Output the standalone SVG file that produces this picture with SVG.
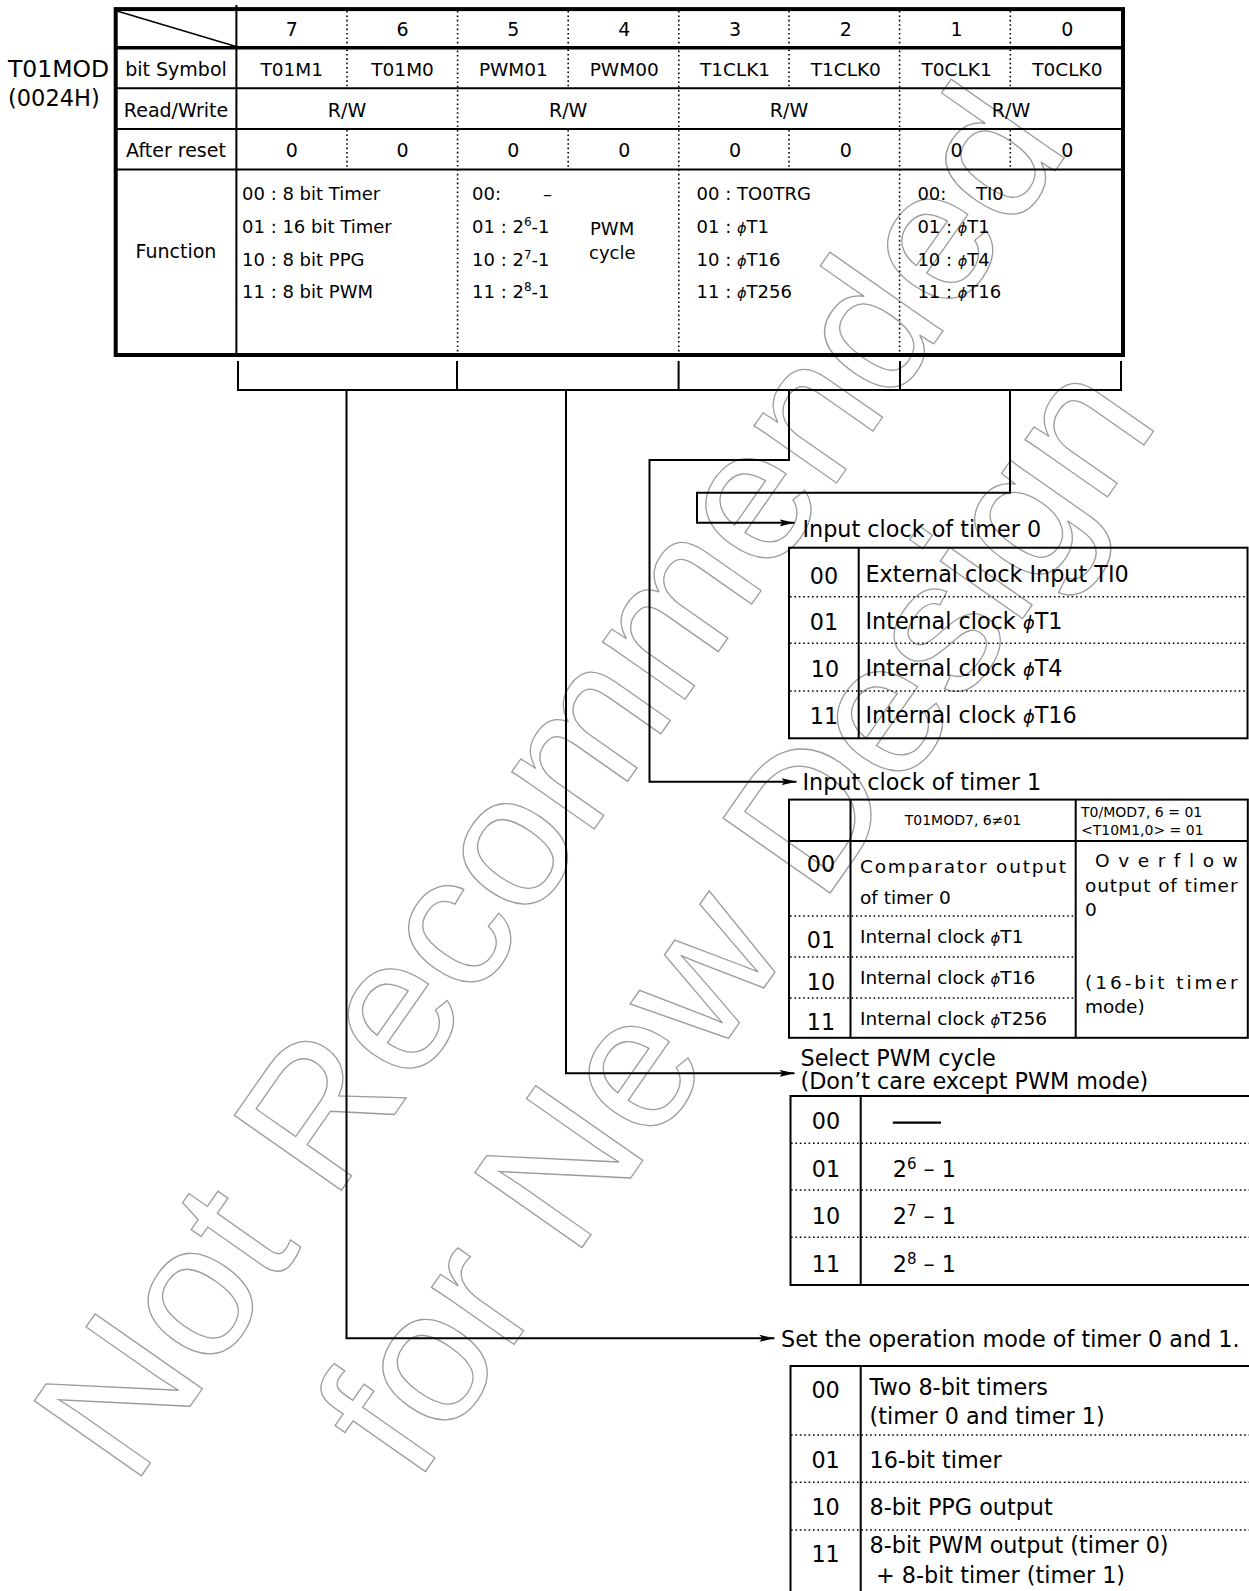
<svg xmlns="http://www.w3.org/2000/svg" width="1249" height="1591" viewBox="0 0 1249 1591">
<defs>
<style>
text{font-family:'DejaVu Sans','Noto Sans',sans-serif;fill:#000;font-variant-ligatures:none}
.f19{font-size:19px}
.f18{font-size:18px}
.f185{font-size:18.5px}
.f22{font-size:22.3px}
.f14{font-size:14px}
.m{text-anchor:middle}
.ln{stroke:#000;stroke-width:2;fill:none}
.bd{stroke:#000;stroke-width:4;fill:none}
.dt{stroke:#000;stroke-width:1.6;stroke-dasharray:1.6 2.8;fill:none}
.ph{font-style:italic;font-size:0.8em}
.wm{font-family:'Liberation Sans',Arial,sans-serif;font-size:190px;fill:none;stroke:#9c9c9c;stroke-width:1.3;text-anchor:middle}
</style>
<marker id="ah" markerWidth="16" markerHeight="10" refX="15" refY="5" orient="auto" markerUnits="userSpaceOnUse">
<path d="M0,1.5 L15,5 L0,8.5 L3,5 z" fill="#000"/>
</marker>
</defs>
<rect width="1249" height="1591" fill="#fff"/>

<g id="watermark" transform="translate(602,818) rotate(-55)">
<text class="wm" x="0" y="0">Not Recommended</text>
<text class="wm" x="-4" y="230">for New Design</text>
</g>

<g id="register-label">
<text x="8" y="77" style="font-size:23.5px">T01MOD</text>
<text x="8" y="105.5" style="font-size:22.5px">(0024H)</text>
</g>

<g id="register-table">
<rect x="115.7" y="9.1" width="1007.3" height="345.9" class="bd"/>
<line x1="115.7" y1="47.7" x2="1123" y2="47.7" stroke="#000" stroke-width="3.5"/>
<path class="ln" d="M115.7,88.3 H1123 M115.7,128.9 H1123 M115.7,169.4 H1123 M236.4,5 V355"/>
<line x1="117" y1="11" x2="236" y2="46.5" stroke="#000" stroke-width="1.5"/>
<path class="dt" d="M457.6,11 V353 M678.8,11 V353 M899.6,11 V353"/>
<path class="dt" d="M347,11 V46 M347,49.5 V87.3 M347,130 V168.4 M568.2,11 V46 M568.2,49.5 V87.3 M568.2,130 V168.4 M789,11 V46 M789,49.5 V87.3 M789,130 V168.4 M1010.3,11 V46 M1010.3,49.5 V87.3 M1010.3,130 V168.4"/>
<g class="f19">
<text class="m" x="291.8" y="36">7</text>
<text class="m" x="402.6" y="36">6</text>
<text class="m" x="513.4" y="36">5</text>
<text class="m" x="624.2" y="36">4</text>
<text class="m" x="735" y="36">3</text>
<text class="m" x="845.8" y="36">2</text>
<text class="m" x="956.6" y="36">1</text>
<text class="m" x="1067.4" y="36">0</text>
<text class="m" x="176" y="76">bit Symbol</text>
<text class="m" x="176" y="116.5">Read/Write</text>
<text class="m" x="176" y="157">After reset</text>
<text class="m" x="176" y="258">Function</text>
<text class="m" x="347" y="116.5">R/W</text>
<text class="m" x="568.2" y="116.5">R/W</text>
<text class="m" x="789" y="116.5">R/W</text>
<text class="m" x="1011" y="116.5">R/W</text>
<text class="m" x="291.8" y="157">0</text>
<text class="m" x="402.6" y="157">0</text>
<text class="m" x="513.4" y="157">0</text>
<text class="m" x="624.2" y="157">0</text>
<text class="m" x="735" y="157">0</text>
<text class="m" x="845.8" y="157">0</text>
<text class="m" x="956.6" y="157">0</text>
<text class="m" x="1067.4" y="157">0</text>
</g>
<g class="f185">
<text class="m" x="291.8" y="76">T01M1</text>
<text class="m" x="402.6" y="76">T01M0</text>
<text class="m" x="513.4" y="76">PWM01</text>
<text class="m" x="624.2" y="76">PWM00</text>
<text class="m" x="735" y="76">T1CLK1</text>
<text class="m" x="845.8" y="76">T1CLK0</text>
<text class="m" x="956.6" y="76">T0CLK1</text>
<text class="m" x="1067.4" y="76">T0CLK0</text>
</g>
<g class="f18">
<text x="242" y="200">00 : 8 bit Timer</text>
<text x="242" y="233">01 : 16 bit Timer</text>
<text x="242" y="266">10 : 8 bit PPG</text>
<text x="242" y="298">11 : 8 bit PWM</text>
<text x="472" y="200">00:</text>
<text x="543" y="200">–</text>
<text x="472" y="233">01 : 2<tspan font-size="12" dy="-7">6</tspan><tspan dy="7">-1</tspan></text>
<text x="472" y="266">10 : 2<tspan font-size="12" dy="-7">7</tspan><tspan dy="7">-1</tspan></text>
<text x="472" y="298">11 : 2<tspan font-size="12" dy="-7">8</tspan><tspan dy="7">-1</tspan></text>
<text x="590" y="235">PWM</text>
<text x="589" y="259">cycle</text>
<text x="696.6" y="200">00 : TO0TRG</text>
<text x="696.6" y="233">01 : <tspan class="ph">ϕ</tspan>T1</text>
<text x="696.6" y="266">10 : <tspan class="ph">ϕ</tspan>T16</text>
<text x="696.6" y="298">11 : <tspan class="ph">ϕ</tspan>T256</text>
<text x="917.4" y="200">00:</text>
<text x="976" y="200">TI0</text>
<text x="917.4" y="233">01 : <tspan class="ph">ϕ</tspan>T1</text>
<text x="917.4" y="266">10 : <tspan class="ph">ϕ</tspan>T4</text>
<text x="917.4" y="298">11 : <tspan class="ph">ϕ</tspan>T16</text>
</g>
</g>

<g id="connectors" class="ln">
<path d="M238,361 V390 H1121 V361 M457,361 V390 M678.6,361 V390 M900,361 V390"/>
<path d="M346.5,390 V1338.3 H774.4" marker-end="url(#ah)"/>
<path d="M566,390 V1073.3 H794.5" marker-end="url(#ah)"/>
<path d="M789,390 V460 H649.5 V781.7 H796.5" marker-end="url(#ah)"/>
<path d="M1010,390 V492.7 H697 V522.8 H794.5" marker-end="url(#ah)"/>
</g>

<g id="timer0-clock">
<text class="f22" x="802.5" y="537">Input clock of timer 0</text>
<rect x="789" y="547.7" width="458.5" height="190.6" class="ln"/>
<line x1="858.7" y1="547.7" x2="858.7" y2="738.3" class="ln"/>
<path class="dt" d="M790,596.7 H1246 M790,643.3 H1246 M790,691 H1246"/>
<g class="f22">
<text class="m" x="824" y="583.5">00</text>
<text class="m" x="824" y="629.5">01</text>
<text class="m" x="825" y="676.5">10</text>
<text class="m" x="824" y="723.5">11</text>
<text x="865.5" y="582">External clock Input TI0</text>
<text x="865.5" y="628.5">Internal clock <tspan class="ph">ϕ</tspan>T1</text>
<text x="865.5" y="675.5">Internal clock <tspan class="ph">ϕ</tspan>T4</text>
<text x="865.5" y="723">Internal clock <tspan class="ph">ϕ</tspan>T16</text>
</g>
</g>

<g id="timer1-clock">
<text class="f22" x="802.5" y="790">Input clock of timer 1</text>
<rect x="789" y="799.6" width="458.8" height="238.2" class="ln"/>
<path class="ln" d="M789,841 H1247.8 M850.5,799.6 V1037.8 M1075.7,799.6 V1037.8"/>
<path class="dt" d="M790,916 H1075 M790,957 H1075 M790,998 H1075"/>
<text class="f14 m" x="963" y="825">T01MOD7, 6≠01</text>
<text class="f14" x="1081" y="816.7">T0/MOD7, 6 = 01</text>
<text class="f14" x="1081" y="835">&lt;T10M1,0&gt; = 01</text>
<g class="f22">
<text class="m" x="821" y="871.7">00</text>
<text class="m" x="821" y="948.3">01</text>
<text class="m" x="821" y="990">10</text>
<text class="m" x="821" y="1030">11</text>
</g>
<g class="f185">
<text x="860" y="873" textLength="206" lengthAdjust="spacing">Comparator output</text>
<text x="860" y="904">of timer 0</text>
<text x="860" y="943.3">Internal clock <tspan class="ph">ϕ</tspan>T1</text>
<text x="860" y="984.3">Internal clock <tspan class="ph">ϕ</tspan>T16</text>
<text x="860" y="1025">Internal clock <tspan class="ph">ϕ</tspan>T256</text>
<text x="1095" y="866.7" textLength="142.7" lengthAdjust="spacing">Overflow</text>
<text x="1085" y="891.7" textLength="152.5" lengthAdjust="spacing">output of timer</text>
<text x="1085" y="915.7">0</text>
<text x="1085" y="989.3" textLength="152.5" lengthAdjust="spacing">(16-bit timer</text>
<text x="1085" y="1013">mode)</text>
</g>
</g>

<g id="pwm-cycle">
<text class="f22" x="800.5" y="1066">Select PWM cycle</text>
<text class="f22" x="800.5" y="1089">(Don’t care except PWM mode)</text>
<path class="ln" d="M1249,1096 H790.5 V1285 H1249 M860.7,1096 V1285"/>
<path class="dt" d="M791,1143.3 H1249 M791,1190 H1249 M791,1237.3 H1249"/>
<g class="f22">
<text class="m" x="826" y="1129.3">00</text>
<text class="m" x="826" y="1177.3">01</text>
<text class="m" x="826" y="1224">10</text>
<text class="m" x="826" y="1271.7">11</text>
<line x1="892.8" y1="1122.7" x2="941" y2="1122.7" stroke="#000" stroke-width="2.2"/>
<text x="892.8" y="1177.3">2<tspan font-size="15" dy="-8">6</tspan><tspan dy="8"> – 1</tspan></text>
<text x="892.8" y="1224">2<tspan font-size="15" dy="-8">7</tspan><tspan dy="8"> – 1</tspan></text>
<text x="892.8" y="1271.7">2<tspan font-size="15" dy="-8">8</tspan><tspan dy="8"> – 1</tspan></text>
</g>
</g>

<g id="operation-mode">
<text class="f22" x="781" y="1346.7">Set the operation mode of timer 0 and 1.</text>
<path class="ln" d="M1249,1366 H790.5 V1591 M860.7,1366 V1591"/>
<path class="dt" d="M791,1435 H1249 M791,1482.3 H1249 M791,1530 H1249"/>
<g class="f22">
<text class="m" x="825.6" y="1398.3">00</text>
<text class="m" x="825.6" y="1468.3">01</text>
<text class="m" x="825.6" y="1515">10</text>
<text class="m" x="825.6" y="1561.7">11</text>
<text x="869.5" y="1395">Two 8-bit timers</text>
<text x="869.5" y="1423.5">(timer 0 and timer 1)</text>
<text x="869.5" y="1468.3">16-bit timer</text>
<text x="869.5" y="1515">8-bit PPG output</text>
<text x="869.5" y="1553.3">8-bit PWM output (timer 0)</text>
<text x="876" y="1583.3">+ 8-bit timer (timer 1)</text>
</g>
</g>
</svg>
